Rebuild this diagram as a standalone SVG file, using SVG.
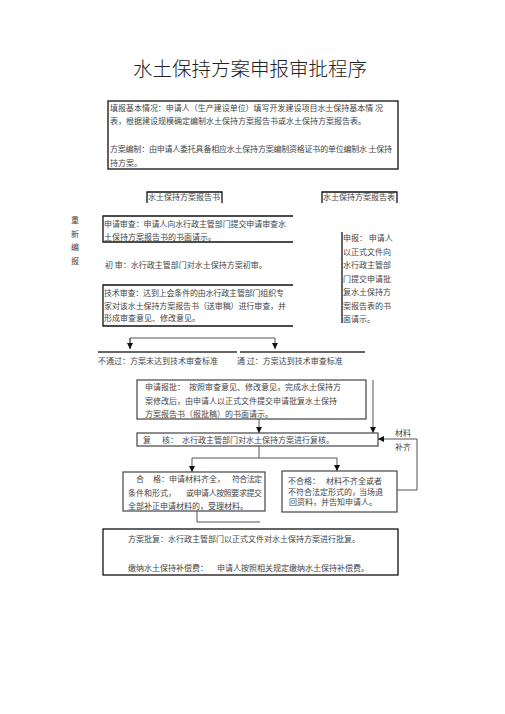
<svg xmlns="http://www.w3.org/2000/svg" width="505" height="714" viewBox="0 0 505 714">
<style>
text{font-family:"Noto Sans CJK SC","Noto Sans",sans-serif;font-size:8px;fill:#454545}
.title{font-size:19.5px;fill:#222;font-weight:300}
.box{fill:none;stroke:#111;stroke-width:1.3}
.gbox{fill:none;stroke:#444;stroke-width:1.2}
.ln{fill:none;stroke:#555;stroke-width:1}
.thick{fill:none;stroke:#666;stroke-width:2}
</style>
<defs>
<marker id="ah" markerUnits="userSpaceOnUse" markerWidth="6" markerHeight="6" refX="6" refY="3" orient="auto">
<path d="M0,0 L6,3 L0,6 Z" fill="#111"/>
</marker>
</defs>
<rect width="505" height="714" fill="#fff"/>
<text class="title" x="250" y="75.5" text-anchor="middle">水土保持方案申报审批程序</text>

<g id="basic">
<rect class="box" x="108" y="101" width="290" height="68" stroke-width="1.6"/>
<text x="110" y="111" textLength="273">填报基本情况：申请人（生产建设单位）填写开发建设项目水土保持基本情 况</text>
<text x="110" y="124">表，根据建设规模确定编制水土保持方案报告书或水土保持方案报告表。</text>
<text x="110" y="152" textLength="282">方案编制：由申请人委托具备相应水土保持方案编制资格证书的单位编制水 土保持</text>
<text x="110" y="166">持方案。</text>
</g>

<g id="label-book">
<path class="box" d="M147,203 V192 H222 V203"/>
<text x="148" y="200">水土保持方案报告书</text>
</g>
<g id="label-table">
<path class="box" d="M322,203 V192 H397 V203"/>
<text x="323" y="200">水土保持方案报告表</text>
</g>

<g id="resubmit">
<text x="75" y="223" text-anchor="middle">重</text>
<text x="75" y="236.5" text-anchor="middle">新</text>
<text x="75" y="250" text-anchor="middle">编</text>
<text x="75" y="263.5" text-anchor="middle">报</text>
</g>

<g id="apply-review">
<path class="box" d="M293,216 H103 V242 H293"/>
<text x="104" y="227" textLength="182">申请审查：申请人向水行政主管部门提交申请审查水</text>
<text x="104" y="240">土保持方案报告书的书面请示。</text>
</g>

<g id="first-review">
<text x="105" y="268">初 审：水行政主管部门对水土保持方案初审。</text>
</g>

<g id="tech-review">
<path class="box" d="M293,285 H103 V326 H293"/>
<text x="104" y="296" textLength="180">技术审查：达到上会条件的由水行政主管部门组织专</text>
<text x="104" y="308.5" textLength="182">家对该水土保持方案报告书（送审稿）进行审查，并</text>
<text x="104" y="321">形成审查意见、修改意见。</text>
</g>

<g id="declare">
<path class="box" d="M342,232 V323"/>
<text x="343" y="241">申报：  申请人</text>
<text x="343" y="254.5">以正式文件向</text>
<text x="343" y="268">水行政主管部</text>
<text x="343" y="281.5">门提交申请批</text>
<text x="343" y="295">复水土保持方</text>
<text x="343" y="308.5">案报告表的书</text>
<text x="343" y="322">面请示。</text>
</g>

<g id="fail">
<path class="thick" d="M98,352 H237"/>
<text x="98" y="364">不通过：方案未达到技术审查标准</text>
</g>
<g id="pass">
<path class="thick" d="M240,352 H365"/>
<text x="237" y="364">通  过：方案达到技术审查标准</text>
</g>

<g id="apply-approval">
<rect class="gbox" x="137" y="380" width="229" height="39"/>
<text x="145" y="390">申请报批：</text>
<text x="189" y="390">按照审查意见、修改意见，完成水土保持方</text>
<text x="145" y="404">案修改后，由申请人以正式文件提交申请批复水土保持</text>
<text x="145" y="417">方案报告书（报批稿）的书面请示。</text>
</g>

<g id="recheck">
<rect class="gbox" x="137" y="433" width="241" height="13"/>
<text x="143" y="442.5">复</text>
<text x="162" y="442.5">核：</text>
<text x="182" y="442.5">水行政主管部门对水土保持方案进行复核。</text>
</g>

<g id="supplement">
<text x="395" y="436">材料</text>
<text x="395" y="450">补齐</text>
</g>

<g id="qualified">
<rect class="gbox" x="123" y="472" width="142" height="39"/>
<text x="136" y="482">合</text>
<text x="153" y="482">格：申请材料齐全，</text>
<text x="232" y="482" textLength="30">符合法定</text>
<text x="128" y="495.5">条件和形式，</text>
<text x="186" y="495.5" textLength="76">或申请人按照要求提交</text>
<text x="128" y="509">全部补正申请材料的，受理材料。</text>
</g>

<g id="unqualified">
<rect class="gbox" x="282" y="471" width="115" height="41"/>
<text x="288" y="483.5">不合格：</text>
<text x="326" y="483.5">材料不齐全或者</text>
<text x="288" y="494.5">不符合法定形式的，</text>
<text x="359" y="494.5">当场退</text>
<text x="289" y="505">回资料，并告知申请人。</text>
</g>

<g id="approval">
<rect class="box" x="103" y="529" width="295" height="46"/>
<text x="128" y="542">方案批复：水行政主管部门以正式文件对水土保持方案进行批复。</text>
<text x="128" y="571">缴纳水土保持补偿费：</text>
<text x="217" y="571">申请人按照相关规定缴纳水土保持补偿费。</text>
</g>

<g id="connectors">
<path class="ln" d="M130,349 V338 H275 V349" marker-end="url(#ah)"/>
<path class="ln" d="M130,338 V349" marker-end="url(#ah)"/>
<path class="ln" d="M259,419 V433" marker-end="url(#ah)"/>
<path class="ln" d="M373,380 V433" marker-end="url(#ah)"/>
<path class="ln" d="M397,490 H417 V439 H378" marker-end="url(#ah)"/>
<path class="ln" d="M259,446 V458 H337 V471" marker-end="url(#ah)"/>
<path class="ln" d="M259,458 H192 V472" marker-end="url(#ah)"/>
<path class="ln" d="M197,511 V522 H260"/>
</g>
</svg>
